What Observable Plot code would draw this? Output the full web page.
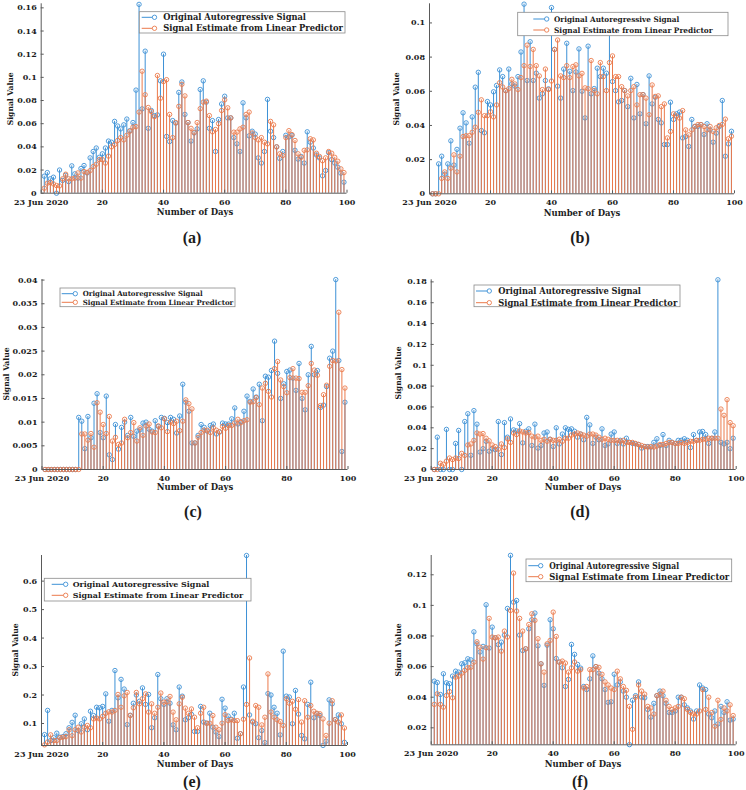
<!DOCTYPE html>
<html><head><meta charset="utf-8">
<script src="https://cdn.jsdelivr.net/npm/d3@7"></script>
<script src="https://cdn.jsdelivr.net/npm/@observablehq/plot@0.6"></script>
<style>
html,body{margin:0;padding:0;background:#fff;}
#fig{position:relative;width:746px;height:790px;overflow:hidden;background:#fff;}
.panel{position:absolute;}
#overlay{position:absolute;left:0;top:0;pointer-events:none;}
</style></head>
<body><div id="fig"></div>
<script>
// ---------- tick labels / legend text ----------
const dayTicks = [0, 20, 40, 60, 80, 100];
const dayTickLabels = ["23 Jun 2020", "20", "40", "60", "80", "100"];
const legendLabels = ["Original Autoregressive Signal", "Signal Estimate from Linear Predictor"];
const panelLetters = ["(a)", "(b)", "(c)", "(d)", "(e)", "(f)"];
const xLabel = "Number of Days";
const yLabel = "Signal Value";

const aTicks = [0, 0.02, 0.04, 0.06, 0.08, 0.1, 0.12, 0.14, 0.16];
const bTicks = [0, 0.02, 0.04, 0.06, 0.08, 0.1];
const cTicks = [0, 0.005, 0.01, 0.015, 0.02, 0.025, 0.03, 0.035, 0.04];
const dTicks = [0, 0.02, 0.04, 0.06, 0.08, 0.1, 0.12, 0.14, 0.16, 0.18];
const eTicks = [0.1, 0.2, 0.3, 0.4, 0.5, 0.6];
const fTicks = [0.02, 0.04, 0.06, 0.08, 0.1, 0.12];

// ---------- series values (day 1 .. 99) ----------
const aOrig = [0.0147,0.0178,0.0124,0.0138,0.0,0.020,0.011,0.0155,0.010,0.0236,
0.0167,0.013,0.0213,0.0239,0.0175,0.0305,0.036,0.039,0.031,0.034,
0.039,0.045,0.044,0.062,0.058,0.0555,0.059,0.064,0.054,0.061,
0.089,0.163,0.0728,0.1226,0.056,0.0714,0.067,0.0676,0.097,0.12,
0.049,0.0446,0.0627,0.0605,0.087,0.096,0.068,0.061,0.045,0.052,
0.0555,0.0895,0.097,0.0786,0.056,0.0627,0.036,0.0636,0.077,0.0837,
0.065,0.065,0.048,0.0426,0.036,0.078,0.065,0.0495,0.0535,0.051,
0.0305,0.026,0.036,0.081,0.0535,0.048,0.040,0.030,0.036,0.050,
0.0486,0.050,0.037,0.0294,0.0317,0.026,0.053,0.044,0.039,0.033,
0.0305,0.015,0.0196,0.035,0.029,0.026,0.0224,0.0173,0.0095];
const aEst = [0.0043,0.0086,0.0092,0.008,0.0066,0.0063,0.0124,0.0164,0.0124,0.0124,
0.013,0.0175,0.013,0.0187,0.018,0.0195,0.023,0.025,0.029,0.029,
0.026,0.032,0.040,0.042,0.0455,0.048,0.046,0.050,0.0535,0.057,
0.0575,0.070,0.1053,0.085,0.074,0.0705,0.066,0.1016,0.082,0.0964,
0.098,0.068,0.048,0.061,0.075,0.094,0.084,0.061,0.056,0.0525,
0.061,0.073,0.0786,0.0795,0.067,0.053,0.055,0.060,0.0714,0.0806,
0.0737,0.065,0.0527,0.0527,0.0555,0.057,0.068,0.070,0.052,0.048,
0.046,0.048,0.044,0.0426,0.062,0.059,0.040,0.034,0.0325,0.048,
0.054,0.0506,0.0455,0.034,0.031,0.037,0.0374,0.047,0.046,0.0345,
0.0317,0.028,0.0305,0.036,0.0345,0.031,0.0276,0.021,0.0178];

const bOrig = [0,0,0.0175,0.022,0.0115,0.0175,0.031,0.0168,0.026,0.0384,
0.0474,0.0415,0.0296,0.045,0.0624,0.0711,0.037,0.0357,0.054,0.052,
0.0597,0.0634,0.0725,0.0686,0.0604,0.073,0.0643,0.063,0.0686,0.083,
0.111,0.0663,0.089,0.0663,0.0706,0.056,0.0585,0.0663,0.0614,0.109,
0.0845,0.063,0.056,0.073,0.0881,0.0717,0.0604,0.0713,0.0848,0.060,
0.0444,0.0864,0.0585,0.0616,0.0735,0.0686,0.0735,0.0706,0.103,0.0657,
0.0604,0.0538,0.0546,0.0604,0.051,0.0676,0.0444,0.064,0.0468,0.0581,
0.041,0.069,0.0526,0.0565,0.0435,0.0415,0.0288,0.0288,0.0536,0.0435,
0.0468,0.0478,0.0327,0.0335,0.0277,0.0435,0.0394,0.0394,0.0405,0.0347,
0.041,0.0374,0.0302,0.0355,0.0394,0.0546,0.022,0.0292,0.0366];
const bEst = [0,0,0,0.009,0.0128,0.009,0.015,0.0228,0.0128,0.022,
0.0335,0.034,0.034,0.036,0.039,0.0477,0.055,0.0457,0.0457,0.048,
0.045,0.052,0.065,0.0625,0.0603,0.0615,0.067,0.0643,0.061,0.068,
0.075,0.087,0.0745,0.0845,0.075,0.069,0.061,0.073,0.061,0.066,
0.0845,0.090,0.069,0.068,0.075,0.068,0.0745,0.0755,0.069,0.0705,
0.062,0.0615,0.078,0.0605,0.0585,0.0768,0.0686,0.0604,0.0768,0.0807,
0.0686,0.0686,0.0627,0.0604,0.0573,0.0604,0.0627,0.052,0.058,0.058,
0.056,0.0463,0.0637,0.057,0.0573,0.051,0.0526,0.0327,0.0365,0.0468,
0.0455,0.0443,0.0487,0.0374,0.0345,0.0374,0.0394,0.0405,0.0405,0.0394,
0.0374,0.0394,0.0365,0.0386,0.040,0.0406,0.0437,0.0322,0.0337];

const cOrig = [0,0,0,0,0,0,0,0,0,0,
0,0.011,0.0102,0.0044,0.0112,0.0067,0.014,0.016,0.0078,0.0067,
0.0155,0.0031,0.0021,0.0095,0.0043,0.0089,0.010,0.0072,0.011,0.007,
0.0081,0.0084,0.0098,0.010,0.0085,0.0081,0.0103,0.0091,0.011,0.0108,
0.0099,0.011,0.0106,0.0077,0.0113,0.018,0.0142,0.0123,0.0056,0.0056,
0.0072,0.0095,0.0089,0.0081,0.0093,0.0096,0.0075,0.0079,0.0098,0.0096,
0.0096,0.0107,0.013,0.0096,0.0101,0.0123,0.0155,0.0144,0.017,0.0153,
0.018,0.0103,0.0197,0.0195,0.0209,0.0271,0.0203,0.015,0.0181,0.0207,
0.021,0.0193,0.0167,0.0224,0.015,0.0126,0.02,0.026,0.02,0.0209,
0.0131,0.0136,0.0175,0.0235,0.025,0.0401,0.023,0.0038,0.0142];
const cEst = [0,0,0,0,0,0,0,0,0,0,
0,0,0.0075,0.0075,0.0062,0.0076,0.0047,0.0141,0.0121,0.0095,
0.0076,0.0112,0.006,0.0068,0.0053,0.0056,0.0106,0.0067,0.0078,0.0099,
0.006,0.0088,0.0072,0.0092,0.0096,0.0079,0.0078,0.0092,0.0088,0.0107,
0.008,0.01,0.0097,0.0102,0.0082,0.0102,0.0147,0.0139,0.0128,0.0056,
0.0068,0.0078,0.0083,0.0083,0.0078,0.0088,0.0083,0.008,0.0091,0.0087,
0.0093,0.0093,0.0098,0.0106,0.0099,0.0103,0.0105,0.0142,0.0143,0.0152,
0.0137,0.0172,0.0182,0.0165,0.0153,0.0213,0.0228,0.0189,0.0175,0.0162,
0.0194,0.0213,0.0193,0.0192,0.0163,0.0163,0.0177,0.0224,0.021,0.0199,
0.0135,0.0158,0.0178,0.0218,0.023,0.0229,0.0332,0.0211,0.0172];

const dOrig = [0,0.031,0,0,0.0385,0,0,0.025,0.0375,0,
0.046,0.0535,0.0136,0.0565,0.0435,0.0167,0.020,0.027,0.0175,0.020,
0.019,0.046,0.0143,0.045,0.031,0.0485,0.038,0.037,0.044,0.0255,
0.0367,0.039,0.023,0.0435,0.0205,0.023,0.035,0.036,0.029,0.022,
0.040,0.0245,0.034,0.040,0.0385,0.039,0.0367,0.031,0.034,0.0285,
0.050,0.0428,0.025,0.031,0.0285,0.039,0.023,0.0245,0.034,0.036,
0.025,0.028,0.0245,0.030,0.026,0.025,0.0245,0.024,0.0205,0.022,
0.022,0.0215,0.026,0.0295,0.023,0.0335,0.023,0.028,0.026,0.025,
0.028,0.028,0.0295,0.028,0.021,0.0335,0.028,0.036,0.0365,0.0335,
0.025,0.030,0.036,0.182,0.026,0.0245,0.026,0.020,0.030];
const dEst = [0,0,0.006,0.005,0.008,0.011,0.0095,0.011,0.0105,0.0155,
0.0135,0.0235,0.0245,0.028,0.035,0.034,0.0345,0.030,0.0275,0.0235,
0.022,0.0195,0.0245,0.021,0.0295,0.026,0.035,0.0335,0.037,0.036,
0.035,0.0355,0.032,0.031,0.032,0.028,0.029,0.027,0.029,0.028,
0.028,0.029,0.027,0.030,0.030,0.033,0.034,0.035,0.034,0.033,
0.032,0.034,0.034,0.033,0.031,0.029,0.030,0.029,0.028,0.028,
0.028,0.027,0.028,0.026,0.026,0.026,0.025,0.024,0.023,0.022,
0.0215,0.022,0.0215,0.0225,0.024,0.024,0.025,0.026,0.026,0.025,
0.025,0.026,0.025,0.026,0.027,0.027,0.028,0.028,0.029,0.029,
0.030,0.030,0.030,0.030,0.058,0.052,0.067,0.045,0.042];

const eOrig = [0.061,0.146,0.040,0.05,0.066,0.052,0.054,0.064,0.085,0.104,
0.129,0.075,0.099,0.116,0.078,0.143,0.128,0.157,0.155,0.160,
0.204,0.108,0.146,0.286,0.190,0.255,0.221,0.096,0.129,0.171,
0.20,0.178,0.225,0.167,0.202,0.085,0.12,0.272,0.187,0.167,
0.187,0.171,0.095,0.078,0.228,0.196,0.113,0.12,0.132,0.072,
0.072,0.160,0.105,0.101,0.136,0.087,0.070,0.054,0.185,0.154,
0.126,0.115,0.136,0.048,0.064,0.228,0.69,0.130,0.105,0.099,
0.050,0.075,0.033,0.205,0.20,0.157,0.136,0.060,0.354,0.196,
0.193,0.099,0.216,0.133,0.058,0.046,0.167,0.245,0.12,0.134,
0.128,0.023,0.038,0.183,0.169,0.114,0.130,0.099,0.034];
const eEst = [0.025,0.035,0.06,0.04,0.04,0.05,0.052,0.054,0.078,0.057,
0.078,0.087,0.07,0.087,0.093,0.085,0.116,0.119,0.116,0.125,
0.136,0.141,0.14,0.146,0.202,0.157,0.197,0.209,0.128,0.155,
0.209,0.169,0.187,0.204,0.14,0.169,0.136,0.157,0.207,0.175,
0.176,0.195,0.14,0.113,0.169,0.192,0.154,0.136,0.151,0.122,
0.085,0.136,0.157,0.101,0.101,0.128,0.087,0.078,0.101,0.131,
0.11,0.113,0.11,0.11,0.064,0.115,0.167,0.33,0.108,0.163,
0.157,0.095,0.122,0.274,0.14,0.122,0.113,0.107,0.093,0.187,
0.171,0.178,0.15,0.184,0.105,0.18,0.122,0.163,0.143,0.136,
0.134,0.116,0.058,0.101,0.18,0.113,0.105,0.13,0.084];

const fOrig = [0.0505,0.0496,0.0418,0.0553,0.0494,0.0488,0.0538,0.057,0.0564,0.0618,
0.0625,0.0651,0.0644,0.0827,0.0749,0.0695,0.0732,0.1004,0.0721,0.0858,
0.0788,0.0743,0.076,0.0806,0.098,0.1327,0.1021,0.1032,0.0806,0.0705,
0.0716,0.0847,0.0906,0.095,0.0736,0.0618,0.0477,0.074,0.0906,0.0847,
0.0653,0.0629,0.0592,0.047,0.0516,0.0745,0.068,0.0614,0.059,0.047,
0.045,0.052,0.067,0.060,0.0557,0.052,0.045,0.0366,0.037,0.055,
0.048,0.05,0.044,0.040,0.009,0.038,0.041,0.050,0.040,0.0396,
0.032,0.027,0.036,0.041,0.044,0.041,0.036,0.030,0.030,0.031,
0.040,0.040,0.035,0.033,0.031,0.0257,0.031,0.048,0.046,0.045,
0.029,0.0265,0.031,0.0225,0.034,0.030,0.037,0.025,0.0257];
const fEst = [0.0353,0.0422,0.0353,0.0335,0.0411,0.0437,0.0396,0.0531,0.0538,0.0557,
0.0575,0.0592,0.0596,0.0629,0.0762,0.0727,0.0649,0.0723,0.0915,0.0793,
0.0788,0.0793,0.0701,0.0832,0.0793,0.0967,0.1211,0.0963,0.0915,0.0832,
0.0716,0.0875,0.0945,0.0902,0.0782,0.0618,0.0564,0.0749,0.0771,0.0956,
0.0797,0.0629,0.0636,0.0623,0.0564,0.0592,0.063,0.057,0.058,0.046,
0.047,0.058,0.058,0.06,0.0595,0.055,0.05,0.048,0.046,0.045,
0.057,0.052,0.047,0.0445,0.034,0.019,0.040,0.048,0.044,0.042,
0.034,0.033,0.029,0.041,0.042,0.044,0.038,0.034,0.032,0.033,
0.034,0.040,0.039,0.032,0.030,0.029,0.029,0.031,0.045,0.032,
0.040,0.030,0.021,0.038,0.0255,0.033,0.031,0.035,0.028];

// ---------- styling / layout ----------
const BLUE = "#3d91d6";
const ORANGE = "#eb7a4c";
const AXIS = "#5a5a5a";

const panels = [
  {orig: aOrig, est: aEst, yTicks: aTicks, yDomain: [0, 0.1635], left: 0,   top: 0,   w: 373, h: 215, mL: 40.7, mR: 26.5, mT: 3.3, mB: 22.3},
  {orig: bOrig, est: bEst, yTicks: bTicks, yDomain: [0, 0.1112], left: 373, top: 0,   w: 373, h: 215, mL: 56,   mR: 12,   mT: 3.3, mB: 21.7},
  {orig: cOrig, est: cEst, yTicks: cTicks, yDomain: [0, 0.0401], left: 0,   top: 270, w: 373, h: 220, mL: 41.5, mR: 25.5, mT: 9.1, mB: 21},
  {orig: dOrig, est: dEst, yTicks: dTicks, yDomain: [0, 0.182],  left: 373, top: 270, w: 373, h: 220, mL: 57.7, mR: 10.3, mT: 9.3, mB: 21},
  {orig: eOrig, est: eEst, yTicks: eTicks, yDomain: [0.0227, 0.69], left: 0, top: 545, w: 373, h: 225, mL: 41, mR: 26, mT: 10, mB: 25},
  {orig: fOrig, est: fEst, yTicks: fTicks, yDomain: [0.0089, 0.1326], left: 373, top: 545, w: 373, h: 225, mL: 57.7, mR: 10.3, mT: 10, mB: 25.7}
];

const fig = document.getElementById("fig");

panels.forEach(cfg => {
  const rows = cfg.orig.map((v, i) => ({day: i + 1, orig: v, est: cfg.est[i]}));
  const base = cfg.yDomain[0];
  const chart = Plot.plot({
    width: cfg.w, height: cfg.h,
    marginLeft: cfg.mL, marginRight: cfg.mR, marginTop: cfg.mT, marginBottom: cfg.mB,
    x: {domain: [0, 100], label: null},
    y: {domain: cfg.yDomain, label: null},
    style: {fontFamily: "'DejaVu Serif', serif", fontWeight: "bold", fontSize: "8px", color: "#1c1c1c", background: "transparent", overflow: "visible"},
    marks: [
      Plot.ruleX(rows, {x: "day", y1: base, y2: "orig", stroke: BLUE, strokeWidth: 1}),
      Plot.dot(rows, {x: "day", y: "orig", r: 2.2, stroke: BLUE, strokeWidth: 0.9, fill: "none"}),
      Plot.ruleX(rows, {x: "day", y1: base, y2: "est", stroke: ORANGE, strokeWidth: 1}),
      Plot.dot(rows, {x: "day", y: "est", r: 2.2, stroke: ORANGE, strokeWidth: 0.9, fill: "none"}),
      Plot.ruleX([0], {stroke: AXIS, strokeWidth: 1}),
      Plot.ruleY([base], {stroke: AXIS, strokeWidth: 1}),
      Plot.axisX({ticks: dayTicks, tickFormat: d => dayTickLabels[dayTicks.indexOf(d)], tickSize: -3, tickPadding: 8.8, stroke: AXIS}),
      Plot.axisY({ticks: cfg.yTicks, tickFormat: d => String(d), tickSize: -3, tickPadding: 7.5, stroke: AXIS})
    ]
  });
  const holder = document.createElement("div");
  holder.className = "panel";
  holder.style.left = cfg.left + "px";
  holder.style.top = cfg.top + "px";
  holder.appendChild(chart);
  fig.appendChild(holder);
});

// ---------- overlay: legends and labels ----------
const ov = d3.select(fig).append("svg").attr("id", "overlay").attr("width", 746).attr("height", 790)
  .style("font-family", "'DejaVu Serif', serif").style("font-weight", "bold").attr("fill", "#1c1c1c");

const legends = [
  {box: [139.3, 11.7, 345, 33],    line: [141.7, 154.5], text: 163.3, ends: [306, 343],     rows: [17.3, 28.3],  font: 8.5},
  {box: [517.7, 12.3, 728, 35.7],  line: [533.3, 546.7], text: 554,   ends: [679.3, 712.7], rows: [19, 30],      font: 7.6},
  {box: [60, 288, 235, 306.7],     line: [61.7, 75.3],   text: 82.7,  ends: [202.7, 233.3], rows: [293.7, 302.3], font: 7.1},
  {box: [474, 285, 680, 306.7],    line: [476, 489.3],   text: 498.3, ends: [641, 677.3],   rows: [291, 302.7],  font: 8.5},
  {box: [44.3, 578.3, 251, 601],   line: [51.7, 65.7],   text: 72.7,  ends: [209.3, 243.3], rows: [584.3, 595.3], font: 8.2},
  {box: [526, 559, 731.7, 581.7],  line: [528.3, 540.7], text: 549.3, ends: [679, 729.3],   rows: [565.7, 576.7], font: 8.5}
];

legends.forEach(L => {
  const g = ov.append("g");
  g.append("rect").attr("x", L.box[0]).attr("y", L.box[1])
    .attr("width", L.box[2] - L.box[0]).attr("height", L.box[3] - L.box[1])
    .attr("fill", "#fff").attr("stroke", "#8a8a8a").attr("stroke-width", 0.8);
  [BLUE, ORANGE].forEach((c, k) => {
    const y = L.rows[k];
    g.append("line").attr("x1", L.line[0]).attr("x2", L.line[1]).attr("y1", y).attr("y2", y)
      .attr("stroke", c).attr("stroke-width", 1);
    g.append("circle").attr("cx", L.line[1]).attr("cy", y).attr("r", 2.2)
      .attr("fill", "#fff").attr("stroke", c).attr("stroke-width", 0.9);
    g.append("text").attr("x", L.text).attr("y", y).attr("dy", "0.35em")
      .attr("font-size", L.font)
      .attr("textLength", L.ends[k] - L.text).attr("lengthAdjust", "spacingAndGlyphs")
      .text(legendLabels[k]);
  });
});

const xLabelPos = [[195, 212], [582, 213], [195, 487.3], [583, 487.3], [195, 764], [583, 764]];
const yLabelPos = [[10, 98.8], [396.7, 99], [6, 374], [398.3, 373], [15, 650], [398.3, 650]];
const letterPos = [[192, 237], [580, 237], [193, 511], [580, 511], [192, 781.5], [580, 781.5]];

xLabelPos.forEach(([x, y]) => {
  ov.append("text").attr("x", x).attr("y", y).attr("dy", "0.35em").attr("text-anchor", "middle")
    .attr("font-size", 8.4).attr("textLength", 76.5).attr("lengthAdjust", "spacingAndGlyphs").text(xLabel);
});
yLabelPos.forEach(([x, y]) => {
  ov.append("text").attr("transform", `translate(${x},${y}) rotate(-90)`).attr("dy", "0.35em")
    .attr("text-anchor", "middle").attr("font-size", 7.8)
    .attr("textLength", 53).attr("lengthAdjust", "spacingAndGlyphs").text(yLabel);
});
letterPos.forEach(([x, y], i) => {
  ov.append("text").attr("x", x).attr("y", y).attr("dy", "0.35em").attr("text-anchor", "middle")
    .style("font-family", "'Liberation Serif', serif").attr("font-size", 16).text(panelLetters[i]);
});
</script>
</body></html>
